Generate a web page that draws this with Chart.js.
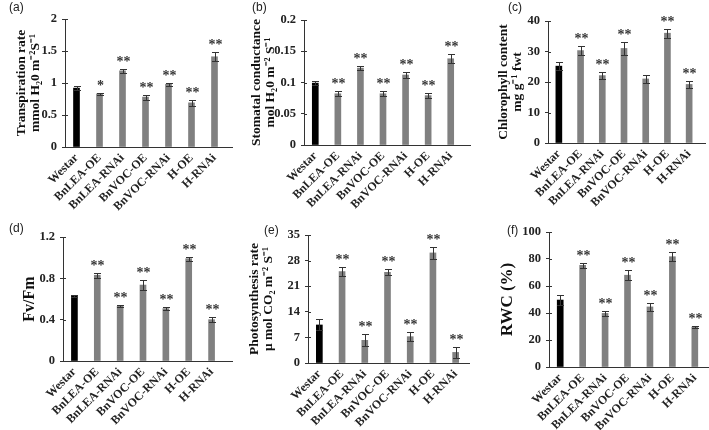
<!DOCTYPE html>
<html lang="en">
<head>
<meta charset="UTF-8">
<title>Physiological traits of transgenic lines</title>
<script src="https://cdn.jsdelivr.net/npm/chart.js"></script>
<style>
    body { margin: 0; background: #fff; }
    #wrap { position: relative; width: 709px; height: 430px; overflow: hidden; }
    canvas { position: absolute; }
    .tag { position: absolute; font: 12px 'Liberation Sans', Arial, sans-serif; color: #222; }
</style>
</head>
<body>
<div id="wrap">
    <canvas id="cA" width="236" height="215" style="left:0;top:0"></canvas>
    <canvas id="cB" width="236" height="215" style="left:236px;top:0"></canvas>
    <canvas id="cC" width="237" height="215" style="left:472px;top:0"></canvas>
    <canvas id="cD" width="236" height="215" style="left:0;top:215px"></canvas>
    <canvas id="cE" width="236" height="215" style="left:236px;top:215px"></canvas>
    <canvas id="cF" width="237" height="215" style="left:472px;top:215px"></canvas>
    <div class="tag" style="left:9px;top:0">(a)</div>
    <div class="tag" style="left:252px;top:0">(b)</div>
    <div class="tag" style="left:508px;top:0">(c)</div>
    <div class="tag" style="left:9px;top:221px">(d)</div>
    <div class="tag" style="left:264px;top:223px">(e)</div>
    <div class="tag" style="left:507px;top:223px">(f)</div>
</div>

<script>
    // Data
    const lines = ['Westar', 'BnLEA-OE', 'BnLEA-RNAi', 'BnVOC-OE', 'BnVOC-RNAi', 'H-OE', 'H-RNAi'];

    const transpiration = [0.92, 0.83, 1.19, 0.78, 0.98, 0.69, 1.41];
    const transpirationErr = [0.03, 0.02, 0.03, 0.04, 0.02, 0.05, 0.07];
    const transpirationSig = ['', '*', '**', '**', '**', '**', '**'];
    const transpirationTicks = [0, 0.5, 1, 1.5, 2];

    const conductance = [0.099, 0.082, 0.123, 0.082, 0.112, 0.079, 0.138];
    const conductanceErr = [0.003, 0.004, 0.003, 0.004, 0.005, 0.004, 0.007];
    const conductanceSig = ['', '**', '**', '**', '**', '**', '**'];
    const conductanceTicks = [0, 0.05, 0.1, 0.15, 0.2];

    const chlorophyll = [25.2, 30.3, 22.1, 31.0, 21.0, 36.0, 19.2];
    const chlorophyllErr = [1.2, 1.4, 1.2, 2.1, 1.2, 1.5, 1.2];
    const chlorophyllSig = ['', '**', '**', '**', '', '**', '**'];
    const chlorophyllTicks = [0, 10, 20, 30, 40];

    const fvfm = [0.63, 0.83, 0.53, 0.735, 0.507, 0.99, 0.40];
    const fvfmErr = [0.01, 0.025, 0.01, 0.045, 0.015, 0.02, 0.025];
    const fvfmSig = ['', '**', '**', '**', '**', '**', '**'];
    const fvfmTicks = [0, 0.4, 0.8, 1.2];

    const photosynthesis = [10.4, 25.0, 6.2, 24.8, 7.2, 30.1, 2.9];
    const photosynthesisErr = [1.5, 1.2, 1.6, 0.8, 1.3, 1.6, 1.4];
    const photosynthesisSig = ['', '**', '**', '**', '**', '**', '**'];
    const photosynthesisTicks = [0, 7, 14, 21, 28, 35];

    const rwc = [49.6, 75.3, 39.7, 68.0, 44.5, 81.7, 29.6];
    const rwcErr = [3.5, 2, 2, 3.5, 3, 3.5, 1];
    const rwcSig = ['', '**', '**', '**', '**', '**', '**'];
    const rwcTicks = [0, 20, 40, 60, 80, 100];

    const SERIF = "'Liberation Serif', 'Times New Roman', serif";

    // error bars, significance stars, x axis line, inward tick halves
    const marks = {
        id: 'marks',
        afterDatasetsDraw(chart, args, opts) {
            const ctx = chart.ctx;
            const y = chart.scales.y;
            const meta = chart.getDatasetMeta(0);
            const vals = chart.data.datasets[0].data;
            const area = chart.chartArea;
            ctx.save();
            ctx.strokeStyle = '#333';
            ctx.lineWidth = 1;
            ctx.fillStyle = '#333';
            ctx.font = 'bold 14px ' + SERIF;
            ctx.textAlign = 'center';
            ctx.textBaseline = 'alphabetic';
            opts.err.forEach((e, i) => {
                const px = Math.round(meta.data[i].x) + 0.5;
                const hi = Math.round(y.getPixelForValue(vals[i] + e)) + 0.5;
                const lo = Math.round(y.getPixelForValue(vals[i] - e)) + 0.5;
                ctx.beginPath();
                ctx.moveTo(px, hi); ctx.lineTo(px, lo);
                ctx.moveTo(px - 3.5, hi); ctx.lineTo(px + 3.5, hi);
                ctx.moveTo(px - 3.5, lo); ctx.lineTo(px + 3.5, lo);
                ctx.stroke();
                if (opts.sig[i]) ctx.fillText(opts.sig[i], px, hi - 4);
            });
            // x axis
            const by = Math.round(area.bottom) + 0.5;
            ctx.beginPath();
            ctx.moveTo(area.left, by);
            ctx.lineTo(opts.axisEnd, by);
            // inner halves of y ticks
            y.ticks.forEach(t => {
                const ty = Math.round(y.getPixelForValue(t.value)) + 0.5;
                ctx.moveTo(area.left, ty);
                ctx.lineTo(area.left + 3, ty);
            });
            ctx.stroke();
            ctx.restore();
        }
    };

    function makePanel(p) {
        const colors = p.values.map((v, i) => i === 0 ? '#000000' : '#808080');
        new Chart(document.getElementById(p.id), {
            type: 'bar',
            data: {
                labels: lines,
                datasets: [{
                    data: p.values,
                    backgroundColor: colors,
                    barThickness: 6
                }]
            },
            options: {
                responsive: false,
                animation: false,
                events: [],
                layout: {
                    padding: { top: p.plotTop, right: p.w - p.plotRight, left: 0, bottom: 0 }
                },
                plugins: {
                    legend: { display: false },
                    tooltip: { enabled: false },
                    marks: { err: p.err, sig: p.sig, axisEnd: p.axisEnd }
                },
                scales: {
                    x: {
                        grid: { display: false, drawTicks: false },
                        border: { display: false },
                        ticks: {
                            color: '#222',
                            font: { family: SERIF, weight: 'bold', size: 12 },
                            minRotation: 45,
                            maxRotation: 45,
                            padding: 4,
                            autoSkip: false
                        },
                        afterFit: s => { s.height = p.h - p.zeroY; }
                    },
                    y: {
                        min: p.ticks[0],
                        max: p.ticks[p.ticks.length - 1],
                        afterBuildTicks: s => { s.ticks = p.ticks.map(v => ({ value: v })); },
                        grid: { drawOnChartArea: false, drawTicks: true, tickLength: 3, color: '#333' },
                        border: { display: true, color: '#333', width: 1 },
                        ticks: {
                            color: '#222',
                            padding: 5,
                            font: { family: SERIF, weight: 'bold', size: 12.5 },
                            callback: v => String(v)
                        },
                        title: {
                            display: true,
                            text: p.title,
                            color: '#111',
                            font: { family: SERIF, weight: 'bold', size: p.titleSize || 13.5, lineHeight: 1.0 },
                            padding: { top: p.titlePad, bottom: 0 }
                        },
                        afterFit: s => { s.width = p.axisX; }
                    }
                }
            },
            plugins: [marks]
        });
    }

    makePanel({ id: 'cA', w: 236, h: 215, axisX: 65, plotTop: 19, zeroY: 147, plotRight: 226, axisEnd: 233, titlePad: 15,
        title: ['Transpiration rate', 'mmol H\u20820 m\u207B\u00B2S\u207B\u00B9'],
        values: transpiration, err: transpirationErr, sig: transpirationSig, ticks: transpirationTicks });
    makePanel({ id: 'cB', w: 236, h: 215, axisX: 68, plotTop: 20, zeroY: 145, plotRight: 226, axisEnd: 235, titlePad: 14,
        title: ['Stomatal conductance', 'mol H\u20820 m\u207B\u00B2 S\u207B\u00B9'],
        values: conductance, err: conductanceErr, sig: conductanceSig, ticks: conductanceTicks });
    makePanel({ id: 'cC', w: 237, h: 215, axisX: 76, plotTop: 21, zeroY: 143, plotRight: 228, axisEnd: 234, titlePad: 25,
        title: ['Chlorophyll content', 'mg g\u207B\u00B9 fwt'],
        values: chlorophyll, err: chlorophyllErr, sig: chlorophyllSig, ticks: chlorophyllTicks });
    makePanel({ id: 'cD', w: 236, h: 215, axisX: 63, plotTop: 22, zeroY: 146, plotRight: 223, axisEnd: 233, titlePad: 22, titleSize: 16,
        title: 'Fv/Fm',
        values: fvfm, err: fvfmErr, sig: fvfmSig, ticks: fvfmTicks });
    makePanel({ id: 'cE', w: 236, h: 215, axisX: 72, plotTop: 20, zeroY: 148, plotRight: 231, axisEnd: 234, titlePad: 12,
        title: ['Photosynthesis rate', '\u03BC mol CO\u2082 m\u207B\u00B2 S\u207B\u00B9'],
        values: photosynthesis, err: photosynthesisErr, sig: photosynthesisSig, ticks: photosynthesisTicks });
    makePanel({ id: 'cF', w: 237, h: 215, axisX: 77, plotTop: 17, zeroY: 152, plotRight: 237, axisEnd: 237, titlePad: 27, titleSize: 17,
        title: 'RWC (%)',
        values: rwc, err: rwcErr, sig: rwcSig, ticks: rwcTicks });
</script>
</body>
</html>
